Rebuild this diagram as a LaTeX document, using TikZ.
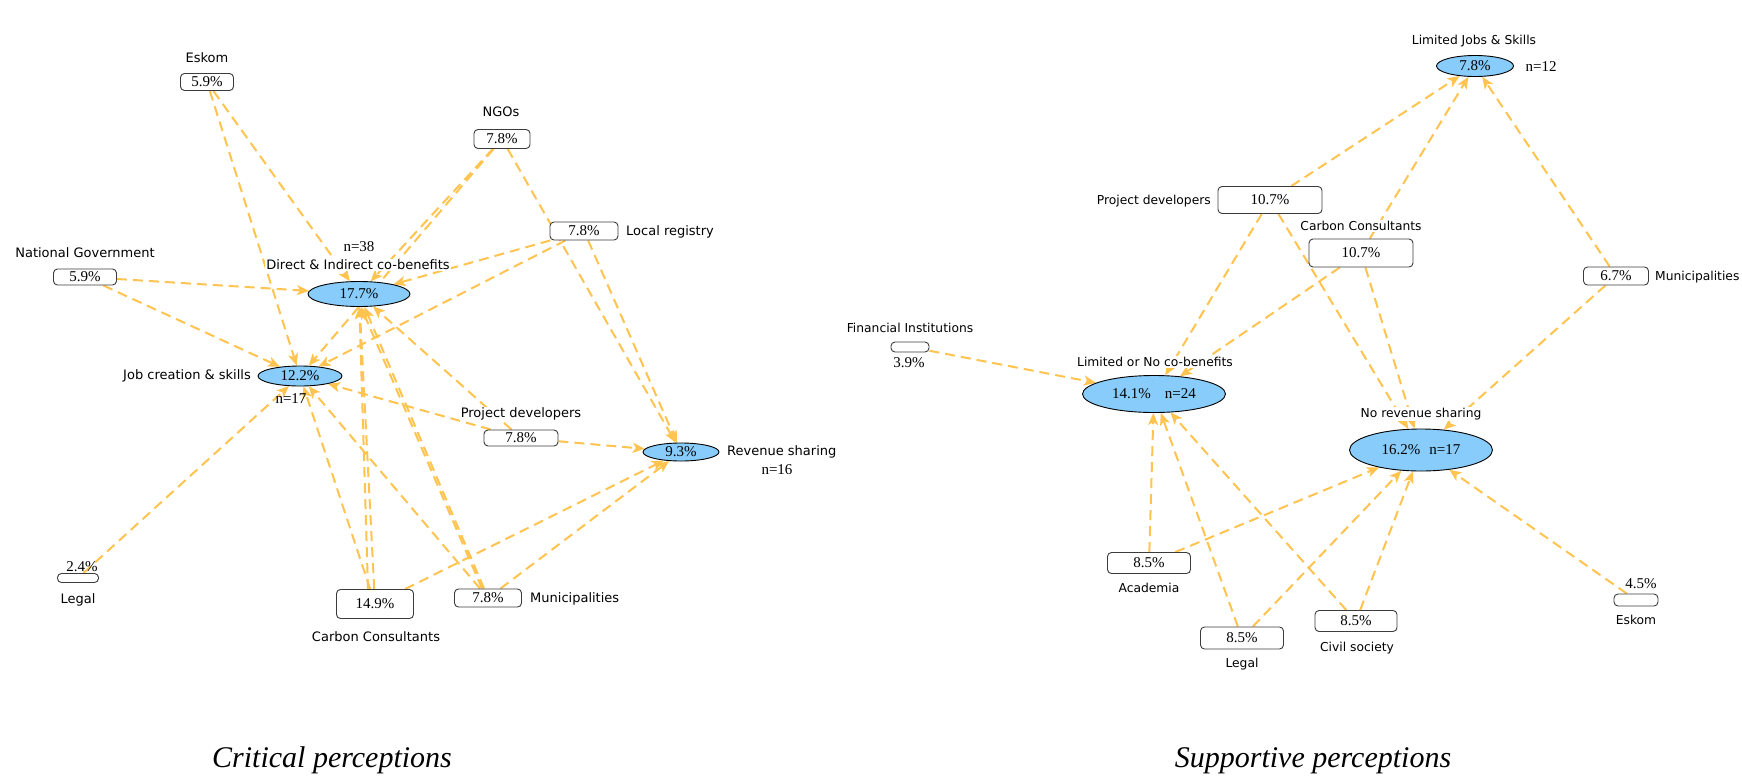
\documentclass[tikz,border=0pt]{standalone}
\usepackage{fontspec}
\setmainfont{Liberation Serif}
\setsansfont{DejaVu Sans}
\usetikzlibrary{shapes.geometric,arrows.meta}
\pgfdeclarelayer{edges}
\pgfsetlayers{edges,main}

\definecolor{edgeorange}{RGB}{255,196,80}
\definecolor{nodeblue}{RGB}{135,204,250}
\definecolor{boxgray}{RGB}{60,60,60}

\begin{document}
\begin{tikzpicture}[x=1pt,y=-1pt,
  blob/.style={ellipse, draw=black, line width=0.9pt, fill=nodeblue, inner sep=0pt,
    font=\fontsize{15}{15}\selectfont},
  pbox/.style={rectangle, rounded corners=4pt, draw=boxgray, line width=0.9pt, fill=white,
    inner sep=0pt, font=\fontsize{15}{15}\selectfont},
  lab/.style={font=\sffamily\fontsize{13}{13}\selectfont, fill=white, inner sep=1pt},
  rlab/.style={font=\sffamily\fontsize{12.3}{12.3}\selectfont, fill=white, inner sep=1pt},
  num/.style={font=\fontsize{15}{15}\selectfont, inner sep=1pt},
  link/.style={draw=edgeorange, line width=2pt, dash pattern=on 10pt off 6pt,
    -{Stealth[length=12pt,width=10pt,inset=3pt]}},
  heading/.style={font=\itshape\fontsize{30}{30}\selectfont}
]
\useasboundingbox (0,0) rectangle (1742,779);
\begin{pgfonlayer}{edges}
  \fill[white] (0,0) rectangle (1742,779);
\end{pgfonlayer}

% ---------------- Critical perceptions ----------------
\node[blob, minimum width=102pt, minimum height=25pt] (directL) at (359,294) {17.7\%};
\node[blob, minimum width=84pt, minimum height=20pt] (jobL) at (300,376) {12.2\%};
\node[blob, minimum width=76pt, minimum height=18pt] (revL) at (681,452) {9.3\%};

\node[pbox, minimum width=53pt, minimum height=17pt] (eskomL) at (207,82) {5.9\%};
\node[pbox, minimum width=56pt, minimum height=19pt] (ngoL) at (502,139) {7.8\%};
\node[pbox, minimum width=63pt, minimum height=16pt] (natgovL) at (85,277) {5.9\%};
\node[pbox, minimum width=68pt, minimum height=18pt] (localL) at (584,231) {7.8\%};
\node[pbox, minimum width=74pt, minimum height=16pt] (projL) at (521,438) {7.8\%};
\node[pbox, minimum width=77pt, minimum height=29pt] (carbonL) at (375,604) {14.9\%};
\node[pbox, minimum width=67pt, minimum height=18pt] (municL) at (488,598) {7.8\%};
\node[pbox, minimum width=41pt, minimum height=9pt] (legalL) at (78,578) {};

\node[lab] (tEskomL) at (207,58) {Eskom};
\node[lab] (tNgoL) at (501,112) {NGOs};
\node[lab] (tNatgovL) at (85,253) {National Government};
\node[num, fill=white] (nDirectL) at (359,247) {n=38};
\node[lab] (tDirectL) at (358,265) {Direct \& Indirect co-benefits};
\node[lab, anchor=east] (tJobL) at (252,376) {Job creation \& skills};
\node[num] (nJobL) at (291,399) {n=17};
\node[lab] (tProjL) at (521,414) {Project developers};
\node[lab, anchor=west] (tLocalL) at (625,232) {Local registry};
\node[lab, anchor=west] (tRevL) at (726,452) {Revenue sharing};
\node[num] (nRevL) at (777,470) {n=16};
\node[num] (pLegalL) at (82,567) {2.4\%};
\node[lab] (tLegalL) at (78,600) {Legal};
\node[lab] (tCarbonL) at (376,637) {Carbon Consultants};
\node[lab, anchor=west] (tMunicL) at (529,599) {Municipalities};
\node[heading, anchor=base] (titleL) at (332,767) {Critical perceptions};

% ---------------- Supportive perceptions ----------------
\node[blob, minimum width=77pt, minimum height=21pt] (limjobR) at (1475,66) {7.8\%};
\node[blob, minimum width=143pt, minimum height=37pt] (limnoR) at (1154,394) {14.1\%\hspace{14pt}n=24};
\node[blob, minimum width=143pt, minimum height=42pt] (norevR) at (1421,450) {16.2\%\hspace{9pt}n=17};

\node[pbox, minimum width=104pt, minimum height=27pt] (projR) at (1270,200) {10.7\%};
\node[pbox, minimum width=104pt, minimum height=28pt] (carbonR) at (1361,253) {10.7\%};
\node[pbox, minimum width=65pt, minimum height=18pt] (municR) at (1616,276) {6.7\%};
\node[pbox, minimum width=38pt, minimum height=10pt] (finR) at (910,347) {};
\node[pbox, minimum width=83pt, minimum height=21pt] (acadR) at (1149,563) {8.5\%};
\node[pbox, minimum width=83pt, minimum height=22pt] (legalR) at (1242,638) {8.5\%};
\node[pbox, minimum width=82pt, minimum height=21pt] (civilR) at (1356,621) {8.5\%};
\node[pbox, minimum width=44pt, minimum height=12pt] (eskomR) at (1636,600) {};

\node[rlab] (tLimjobR) at (1474,41) {Limited Jobs \& Skills};
\node[num] (nLimjobR) at (1541,67) {n=12};
\node[rlab, anchor=east] (tProjR) at (1212,201) {Project developers};
\node[rlab] (tCarbonR) at (1361,226) {Carbon Consultants};
\node[rlab, anchor=west] (tMunicR) at (1654,277) {Municipalities};
\node[rlab] (tFinR) at (910,328) {Financial Institutions};
\node[num] (pFinR) at (909,363) {3.9\%};
\node[rlab] (tLimnoR) at (1155,362) {Limited or No co-benefits};
\node[rlab] (tNorevR) at (1421,414) {No revenue sharing};
\node[rlab] (tAcadR) at (1149,588) {Academia};
\node[rlab] (tLegalR) at (1242,664) {Legal};
\node[rlab] (tCivilR) at (1357,648) {Civil society};
\node[num] (pEskomR) at (1641,584) {4.5\%};
\node[rlab] (tEskomR) at (1636,620) {Eskom};
\node[heading, anchor=base] (titleR) at (1313,767) {Supportive perceptions};

% ---------------- connectors ----------------
\begin{pgfonlayer}{edges}
  % critical
  \draw[link] (eskomL) -- (directL);
  \draw[link] (eskomL) -- (jobL);
  \draw[link] (ngoL) -- (directL);
  \draw[link] (ngoL) -- (jobL);
  \draw[link] (ngoL) -- (revL);
  \draw[link] (localL) -- (directL);
  \draw[link] (localL) -- (jobL);
  \draw[link] (localL) -- (revL);
  \draw[link] (natgovL) -- (directL);
  \draw[link] (natgovL) -- (jobL);
  \draw[link] (projL) -- (directL);
  \draw[link] (projL) -- (jobL);
  \draw[link] (projL) -- (revL);
  \draw[link] (carbonL) -- (directL);
  \draw[link] ([xshift=-7pt]carbonL.north) -- (directL);
  \draw[link] (carbonL) -- (jobL);
  \draw[link] (carbonL) -- (revL);
  \draw[link] (municL) -- (directL);
  \draw[link] ([xshift=-6pt]municL.north) -- ([xshift=2pt]directL.south);
  \draw[link] (municL) -- (jobL);
  \draw[link] (municL) -- (revL);
  \draw[link] (legalL) -- (jobL);
  % supportive
  \draw[link] (projR) -- (limjobR);
  \draw[link] (carbonR) -- (limjobR);
  \draw[link] (municR) -- (limjobR);
  \draw[link] (projR) -- (limnoR);
  \draw[link] (projR) -- (norevR);
  \draw[link] (carbonR) -- (limnoR);
  \draw[link] (carbonR) -- (norevR);
  \draw[link] (municR) -- (norevR);
  \draw[link] (finR) -- (limnoR);
  \draw[link] (acadR) -- (limnoR);
  \draw[link] (acadR) -- (norevR);
  \draw[link] (legalR) -- (limnoR);
  \draw[link] (legalR) -- (norevR);
  \draw[link] (civilR) -- (limnoR);
  \draw[link] (civilR) -- (norevR);
  \draw[link] (eskomR) -- (norevR);
\end{pgfonlayer}
\end{tikzpicture}
\end{document}
